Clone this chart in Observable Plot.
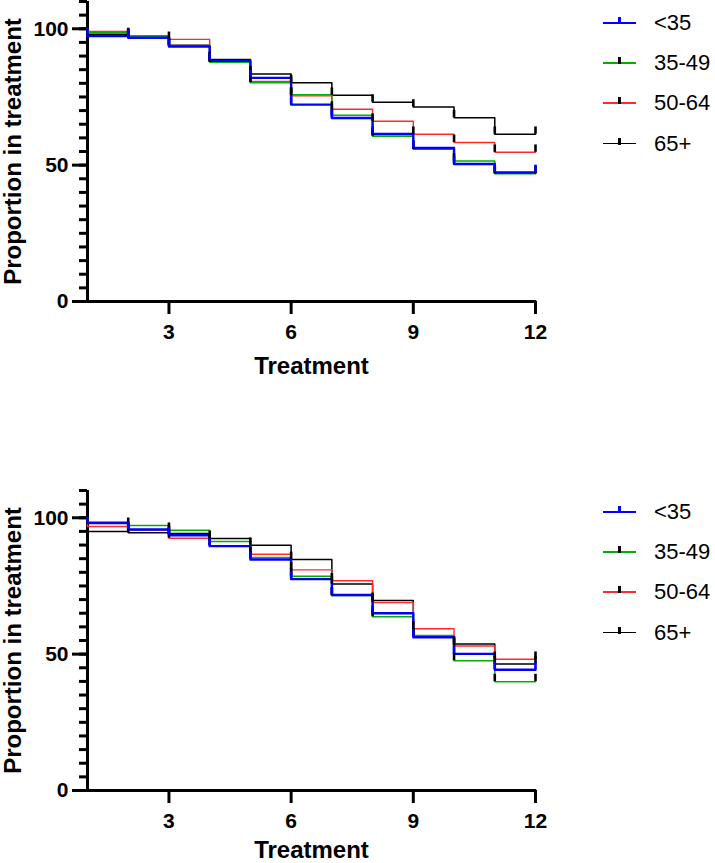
<!DOCTYPE html>
<html><head><meta charset="utf-8">
<script src="https://cdn.jsdelivr.net/npm/d3@7"></script>
<script src="https://cdn.jsdelivr.net/npm/@observablehq/plot@0.6"></script>
<style>
body{margin:0;background:#fff;font-family:"Liberation Sans",Arial,sans-serif;}
#wrap{position:relative;width:715px;height:863px;overflow:hidden;}
.panel{position:absolute;left:0;}
.legend{position:absolute;left:600px;width:115px;height:0;}
.item{position:absolute;left:0;height:0;width:115px;}
.sw{position:absolute;left:3px;width:33px;}
.tk{position:absolute;left:18px;width:2.5px;height:7px;top:-6px;}
.lb{position:absolute;left:54px;top:-11px;font-size:22px;line-height:22px;color:#000;white-space:nowrap;}
</style>
</head><body>
<div id="wrap"></div>
<script>
// ---- data ----
const groups = ["<35", "35-49", "50-64", "65+"];
const colors = ["#0000ff", "#00b000", "#ff2a2a", "#000000"];
const tickColors = ["#0000ff", "#000000", "#000000", "#000000"];
const widths = [2.4, 1.5, 1.4, 1.5];
const intervalStart = [1, 2, 3, 4, 5, 6, 7, 8, 9, 10, 11];
const endTime = 12;
const censorTimes = [2, 3, 4, 5, 6, 7, 8, 9, 10, 11, 12];
const xTicks = [3, 6, 9, 12];
const yTicks = [0, 50, 100];
const yMinorTicks = [0, 5, 10, 15, 20, 25, 30, 35, 40, 45, 50, 55, 60, 65, 70, 75, 80, 85, 90, 95, 100, 105, 110];

// top panel
const topLt35  = [97.3, 96.7, 93.5, 88.3, 82.0, 72.2, 67.3, 61.4, 56.3, 50.4, 47.3];
const top35_49 = [98.5, 97.2, 93.8, 87.7, 80.2, 75.8, 68.3, 60.6, 55.8, 51.5, 46.8];
const top50_64 = [99.0, 97.5, 96.1, 88.0, 80.7, 75.4, 70.5, 66.1, 61.3, 58.3, 54.7];
const top65    = [98.0, 97.0, 94.0, 88.7, 83.4, 80.2, 75.6, 73.1, 71.3, 67.4, 61.3];

// bottom panel
const botLt35  = [98.1, 95.7, 93.6, 89.6, 84.7, 77.5, 71.7, 65.0, 56.2, 50.1, 44.3];
const bot35_49 = [98.4, 97.2, 95.4, 91.3, 85.4, 78.6, 71.5, 63.7, 56.8, 47.6, 39.9];
const bot50_64 = [96.8, 95.5, 92.5, 89.8, 86.6, 80.9, 76.9, 68.9, 59.3, 53.0, 48.1];
const bot65    = [95.0, 94.5, 94.2, 92.4, 89.9, 84.7, 75.7, 69.7, 56.5, 53.7, 46.4];

const FONT = "Liberation Sans, Arial, Helvetica, sans-serif";

function makePanel(seriesValues, height, marginTop, marginBottom, titleDy) {
  const marks = [];
  marks.push(Plot.ruleX([1], {y1: 0, y2: 110, stroke: "#000", strokeWidth: 3}));
  marks.push(Plot.ruleY([0], {x1: 1, x2: 12.03, stroke: "#000", strokeWidth: 3}));
  marks.push(Plot.axisY({ticks: yMinorTicks, tickSize: 8, strokeWidth: 3, tickFormat: () => "", label: null}));
  marks.push(Plot.axisY({ticks: yTicks, tickSize: 15, tickPadding: 4, strokeWidth: 3, fontSize: 21, fontWeight: "bold", tickFormat: d => String(d), label: null, fill: "#000"}));
  marks.push(Plot.axisX({ticks: xTicks, tickSize: 13, tickPadding: 10, strokeWidth: 3, fontSize: 21, fontWeight: "bold", tickFormat: d => String(d), label: null, fill: "#000"}));
  const order = [3, 2, 1, 0];
  for (const gi of order) {
    const vals = seriesValues[gi];
    const pts = [{t: intervalStart[0], v: 100}]
      .concat(intervalStart.map((t, i) => ({t, v: vals[i]})))
      .concat([{t: endTime, v: vals[vals.length - 1]}]);
    marks.push(Plot.line(pts, {x: "t", y: "v", curve: "step-after", stroke: colors[gi], strokeWidth: widths[gi]}));
  }
  for (const gi of order) {
    const vals = seriesValues[gi];
    const cens = censorTimes.map(t => ({t, v: vals[Math.min(t - 1, vals.length - 1)]}));
    marks.push(Plot.ruleX(cens, {x: "t", y1: "v", y2: d => d.v + 2.7, stroke: tickColors[gi], strokeWidth: 2.6}));
  }
  marks.push(Plot.text(["Proportion in treatment"], {text: d => d, frameAnchor: "left", textAnchor: "middle", rotate: -90, dx: -84, lineAnchor: "top", fontSize: 24, fontWeight: "bold", fill: "#000"}));
  marks.push(Plot.text(["Treatment"], {text: d => d, frameAnchor: "bottom", textAnchor: "middle", dy: titleDy, lineAnchor: "middle", fontSize: 24, fontWeight: "bold", fill: "#000"}));
  return Plot.plot({
    width: 715,
    height,
    marginLeft: 87,
    marginRight: 180,
    marginTop,
    marginBottom,
    x: {domain: [1, 12], label: null},
    y: {domain: [0, 110], label: null},
    style: {fontFamily: FONT, background: "#fff", color: "#000", overflow: "visible"},
    marks
  });
}

function makeLegend(top) {
  const lg = document.createElement("div");
  lg.className = "legend";
  lg.style.top = top + "px";
  groups.forEach((g, i) => {
    const it = document.createElement("div");
    it.className = "item";
    it.style.top = (i * 40.3) + "px";
    const sw = document.createElement("div");
    sw.className = "sw";
    sw.style.background = colors[i];
    const h = i === 0 ? 2.2 : 1.6;
    sw.style.height = h + "px";
    sw.style.top = (-h / 2) + "px";
    const tk = document.createElement("div");
    tk.className = "tk";
    tk.style.background = tickColors[i];
    const lb = document.createElement("div");
    lb.className = "lb";
    lb.textContent = g;
    it.append(sw, tk, lb);
    lg.append(it);
  });
  return lg;
}

const wrap = document.getElementById("wrap");
const p1 = makePanel([topLt35, top35_49, top50_64, top65], 480, 1, 179, 64.5);
p1.classList.add("panel"); p1.style.top = "0px";
const p2 = makePanel([botLt35, bot35_49, bot50_64, bot65], 383, 10, 73, 60);
p2.classList.add("panel"); p2.style.top = "480px";
wrap.append(p1, p2, makeLegend(22.7), makeLegend(511.7));
</script>
</body></html>
